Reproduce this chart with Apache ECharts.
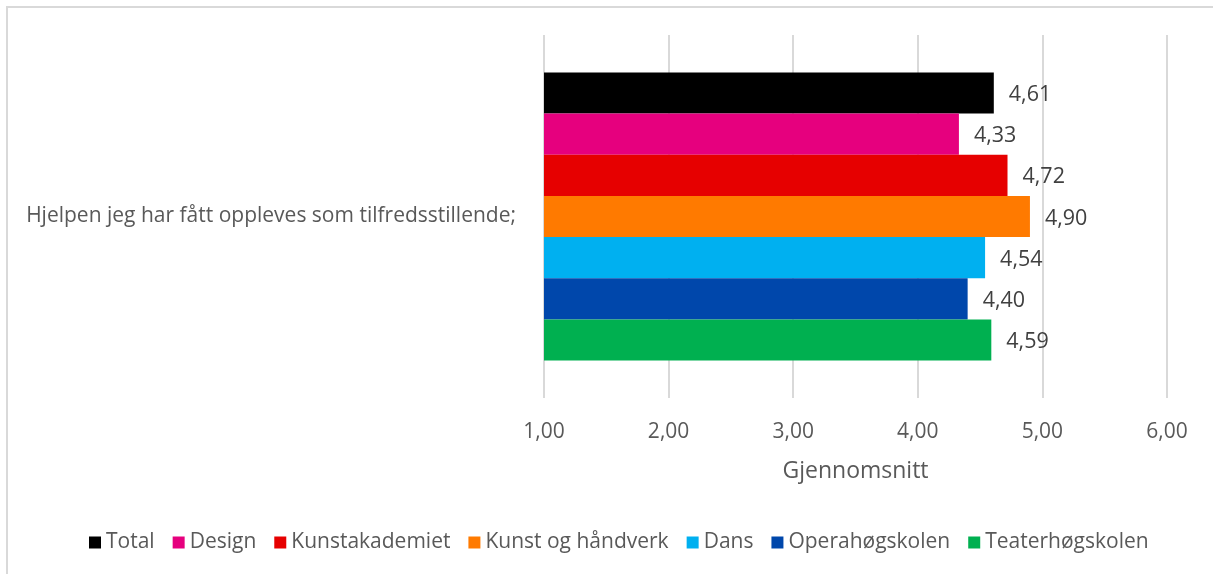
<!DOCTYPE html>
<html>
<head>
<meta charset="utf-8">
<script src="https://cdn.jsdelivr.net/npm/echarts@6/dist/echarts.min.js"></script>
<style>
  html, body { margin: 0; padding: 0; background: #ffffff; }
  #frame { position: absolute; left: 6px; top: 6px; width: 1220px; height: 580px; border: 2px solid #d9d9d9; box-sizing: border-box; }
  #chart { position: absolute; left: 0; top: 0; width: 1213px; height: 574px; }
</style>
</head>
<body>
<div id="frame"></div>
<div id="chart"></div>
<script>
// Question and groups
const categories = ['Hjelpen jeg har fått oppleves som tilfredsstillende;'];
const groups = ['Total', 'Design', 'Kunstakademiet', 'Kunst og håndverk', 'Dans', 'Operahøgskolen', 'Teaterhøgskolen'];
const values = [4.61, 4.33, 4.72, 4.90, 4.54, 4.40, 4.59];
const colors = ['#000000', '#E6007E', '#E60000', '#FF7A00', '#00B0F0', '#0047AB', '#00B050'];
const xTicks = [1, 2, 3, 4, 5, 6];
const axisTitle = 'Gjennomsnitt';

const fmt = v => v.toFixed(2).replace('.', ',');
const FONT = 'Open Sans';

const chart = echarts.init(document.getElementById('chart'));
chart.setOption({
  animation: false,
  textStyle: { fontFamily: FONT },
  legend: {
    data: groups,
    bottom: 16,
    left: 84,
    icon: 'rect',
    itemWidth: 12,
    itemHeight: 12,
    itemGap: 18,
    textStyle: { fontFamily: FONT, fontSize: 21, color: '#595959', padding: [0, 0, 0, 0] }
  },
  grid: { left: 544, right: 46, top: 35, bottom: 176, containLabel: false },
  xAxis: {
    type: 'value',
    min: xTicks[0],
    max: xTicks[xTicks.length - 1],
    interval: 1,
    name: axisTitle,
    nameLocation: 'middle',
    nameGap: 62,
    nameTextStyle: { fontFamily: FONT, fontSize: 23, color: '#595959' },
    axisLine: { show: false },
    axisTick: { show: false },
    axisLabel: { fontFamily: FONT, fontSize: 21, color: '#595959', margin: 24, formatter: fmt },
    splitLine: { show: true, lineStyle: { color: '#d9d9d9', width: 2 } }
  },
  yAxis: {
    type: 'category',
    data: categories,
    inverse: true,
    axisLine: { show: false },
    axisTick: { show: false },
    axisLabel: { fontFamily: FONT, fontSize: 21, color: '#595959', margin: 28 }
  },
  series: groups.map((g, i) => ({
    name: g,
    type: 'bar',
    data: [values[i]],
    itemStyle: { color: colors[i] },
    barGap: '0%',
    barCategoryGap: '20.6%',
    label: {
      show: true,
      position: 'right',
      distance: 15,
      offset: [0, 2],
      fontFamily: FONT,
      fontSize: 21.5,
      color: '#404040',
      formatter: p => fmt(p.value)
    }
  }))
});
</script>
</body>
</html>
